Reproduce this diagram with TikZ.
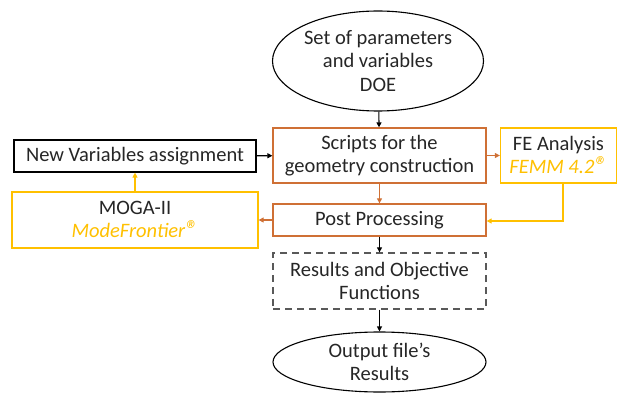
\documentclass[tikz,border=0pt]{standalone}
\usepackage{fontspec}
\setmainfont{Carlito}
\usetikzlibrary{shapes.geometric,arrows.meta}
\definecolor{orng}{HTML}{CF7035}
\definecolor{ylw}{HTML}{FFC000}
\definecolor{dgray}{HTML}{595959}
\tikzset{
  every node/.style={font=\fontsize{20.5}{23.5}\selectfont, align=center, inner sep=0pt, text=black!85},
  blk/.style={draw=black, line width=1.2pt, rectangle},
  orbox/.style={draw=orng, line width=1.3pt, rectangle},
  ybox/.style={draw=ylw, line width=1.3pt, rectangle},
  dbox/.style={draw=dgray, line width=1.3pt, rectangle, dash pattern=on 7pt off 5pt},
  ell/.style={draw=black, line width=1.1pt, ellipse},
  arr/.style={line width=1.1pt, -{Triangle[length=5pt,width=5pt]}},
}
\newcommand{\regmark}{\raisebox{-0.05em}{\fontsize{26}{26}\selectfont ®}}
\begin{document}
\begin{tikzpicture}[x=1pt,y=-1pt]
\useasboundingbox (0,0) rectangle (618,393);
\node[ell, minimum width=211pt, minimum height=100pt] (doe) at (378,61) {Set of parameters\\and variables\\DOE};
\node[orbox, minimum width=213pt, minimum height=55pt] (scr) at (379.5,155.5) {Scripts for the\\geometry construction};
\node[ybox, minimum width=116pt, minimum height=55pt] (fe) at (558.5,155.5) {FE Analysis\\\textcolor{ylw}{\itshape FEMM 4.2\regmark}};
\node[orbox, minimum width=213pt, minimum height=32pt] (pp) at (379.5,220) {Post Processing};
\node[blk, minimum width=242pt, minimum height=32pt] (nv) at (135,156) {New Variables assignment};
\node[ybox, minimum width=246pt, minimum height=56pt] (moga) at (135,220) {MOGA-II\\\textcolor{ylw}{\itshape ModeFrontier\regmark}};
\node[dbox, minimum width=213pt, minimum height=56pt] (res) at (379.5,281) {Results and Objective\\Functions};
\node[ell, minimum width=213pt, minimum height=60pt] (out) at (379.5,362) {Output file’s\\Results};
\coordinate (fecorner) at (563,221);
\draw[arr] (doe) -- (scr);
\draw[arr, color=orng] (scr) -- (fe);
\draw[arr, color=orng] (scr) -- (pp);
\draw[arr, color=ylw] (fe.south -| fecorner) -- (fecorner) -- (pp.east |- fecorner);
\draw[arr, color=orng] (pp) -- (moga);
\draw[arr, color=ylw] (moga) -- (nv);
\draw[arr] (nv) -- (scr);
\draw[arr] (pp) -- (res);
\draw[arr] (res) -- (out);
\end{tikzpicture}
\end{document}
